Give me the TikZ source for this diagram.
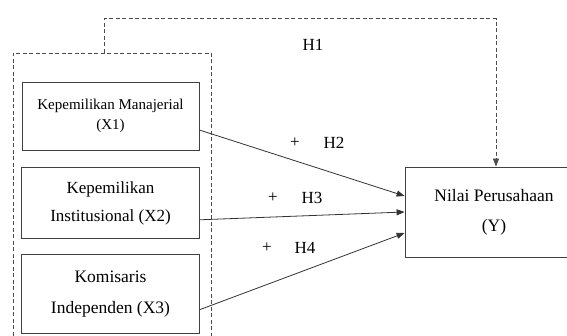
\documentclass[tikz,border=0pt]{standalone}
\usepackage{fontspec}
\setmainfont{Liberation Serif}
\usepackage{tikz}
\usetikzlibrary{positioning,arrows.meta}

\begin{document}
\begin{tikzpicture}[x=1pt, y=-1pt, > = {Triangle[length=8pt,width=6pt]},
  varbox/.style={draw=black!75, line width=0.8pt, align=center, inner sep=0pt},
  grpbox/.style={draw=black!70, line width=0.8pt, dash pattern=on 4pt off 2.5pt},
  hyp/.style={font=\fontsize{17}{19}\selectfont}]
\useasboundingbox (0,0) rectangle (567,336);

\node (grp) [grpbox, minimum width=198pt, minimum height=287pt] at (112,196.5) {};

\node (x1) [varbox, minimum width=177pt, minimum height=68pt, font=\fontsize{15}{20}\selectfont] at (110.5,116) {Kepemilikan Manajerial\\(X1)};
\node (x2) [varbox, minimum width=178pt, minimum height=71pt, font=\fontsize{17}{28}\selectfont, below=17pt of x1] {Kepemilikan\\Institusional (X2)};
\node (x3) [varbox, minimum width=178pt, minimum height=79pt, font=\fontsize{17.5}{31}\selectfont, below=15pt of x2] {Komisaris\\Independen (X3)};

\node (y) [varbox, minimum width=178pt, minimum height=90pt, font=\fontsize{17.5}{30}\selectfont] at (494,212) {Nilai Perusahaan\\(Y)};

\node (h1) [hyp] at (313,45) {H1};
\node (p2) [hyp] at (295,143) {+};
\node (h2) [hyp] at (334,143) {H2};
\node (p3) [hyp] at (273,198) {+};
\node (h3) [hyp] at (312,198) {H3};
\node (p4) [hyp] at (267,248) {+};
\node (h4) [hyp] at (305,248) {H4};

\draw[->, grpbox] ([xshift=-8pt]grp.north) -- ++(0,-34) -| ([xshift=2pt]y.north);

\draw[->, black!80, line width=0.8pt] ([yshift=-14pt]x1.east) to ([yshift=16pt]y.west);
\draw[->, black!80, line width=0.8pt] ([yshift=-16.5pt]x2.east) to (y.west);
\draw[->, black!80, line width=0.8pt] ([yshift=-15.5pt]x3.east) to ([yshift=-21pt]y.west);
\end{tikzpicture}
\end{document}
